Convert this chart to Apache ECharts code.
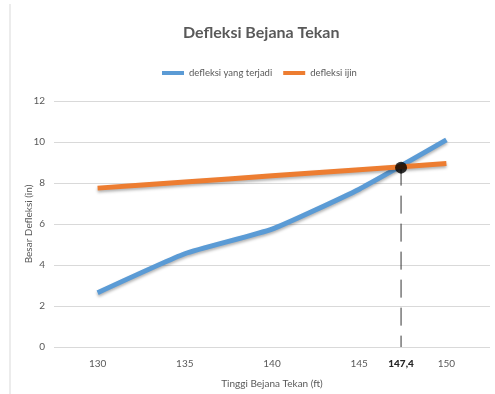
<!DOCTYPE html>
<html><head><meta charset="utf-8">
<script src="https://cdn.jsdelivr.net/npm/echarts@6/dist/echarts.min.js"></script>
<style>html,body{margin:0;padding:0;background:#fff}#c{width:495px;height:394px}</style>
</head><body><div id="c"></div>
<script>
const heights = [130, 135, 140, 145, 150];
const terjadi = [2.65, 4.55, 5.75, 7.7, 10.1];
const ijin = [7.75, 8.05, 8.35, 8.65, 8.95];
const intersectX = 147.4;
const intersectY = 8.75;
const xTickLabels = [130, 135, 140, 145, 147.4, 150];

const font = "Lato, 'Liberation Sans', sans-serif";
const chart = echarts.init(document.getElementById('c'));
chart.setOption({
  animation: false,
  title: {
    text: 'Defleksi Bejana Tekan', left: 178, top: 20,
    textStyle: {fontFamily: font, fontSize: 16, fontWeight: 'bold', color: '#595959'}
  },
  legend: {
    top: 63, left: 157, itemWidth: 22, itemHeight: 4, itemGap: 11,
    icon: 'rect',
    textStyle: {fontFamily: font, fontSize: 9.5, color: '#595959'},
    data: ['defleksi yang terjadi', 'defleksi ijin']
  },
  graphic: [{type: 'line', shape: {x1: 10, y1: 4, x2: 10, y2: 394}, style: {stroke: '#d9d9d9', lineWidth: 1}}],
  grid: {left: 54, right: 5, top: 101, bottom: 46},
  xAxis: {
    type: 'value', min: 127.5, max: 152.5,
    name: 'Tinggi Bejana Tekan (ft)', nameLocation: 'middle', nameGap: 32,
    nameTextStyle: {fontFamily: font, fontSize: 10, color: '#595959'},
    axisLine: {show: false}, axisTick: {show: false}, splitLine: {show: false},
    axisLabel: {
      customValues: xTickLabels, margin: 12,
      fontFamily: font, fontSize: 10, color: '#595959',
      formatter: v => v === intersectX ? '{b|' + String(v).replace('.', ',') + '}' : String(v),
      rich: {b: {fontFamily: font, fontSize: 10, fontWeight: 900, color: '#262626'}}
    }
  },
  yAxis: {
    type: 'value', min: 0, max: 12, interval: 2,
    name: 'Besar Defleksi (in)', nameLocation: 'middle', nameGap: 20, nameMoveOverlap: false,
    nameTextStyle: {fontFamily: font, fontSize: 10, color: '#595959'},
    axisLine: {show: false}, axisTick: {show: false},
    splitLine: {lineStyle: {color: '#d9d9d9', width: 1}},
    axisLabel: {fontFamily: font, fontSize: 10, color: '#595959', margin: 9}
  },
  series: [
    {
      name: 'defleksi yang terjadi', type: 'line', smooth: 0.15, symbol: 'none',
      data: heights.map((h, i) => [h, terjadi[i]]),
      lineStyle: {color: '#5b9bd5', width: 5, shadowColor: 'rgba(0,0,0,0.3)', shadowBlur: 3, shadowOffsetY: 2},
      itemStyle: {color: '#5b9bd5'}
    },
    {
      name: 'defleksi ijin', type: 'line', smooth: 0.15, symbol: 'none',
      data: heights.map((h, i) => [h, ijin[i]]),
      lineStyle: {color: '#ed7d31', width: 5, shadowColor: 'rgba(0,0,0,0.3)', shadowBlur: 3, shadowOffsetY: 2},
      itemStyle: {color: '#ed7d31'}
    },
    {
      name: 'guide', type: 'line', symbol: 'none', silent: true,
      data: [[intersectX, intersectY], [intersectX, 0]],
      lineStyle: {color: '#333', width: 1, type: [18, 10]}, z: 1
    },
    {
      name: 'titik', type: 'scatter', symbolSize: 12,
      data: [[intersectX, intersectY]],
      itemStyle: {color: '#000'}, z: 5
    }
  ]
});
</script></body></html>
